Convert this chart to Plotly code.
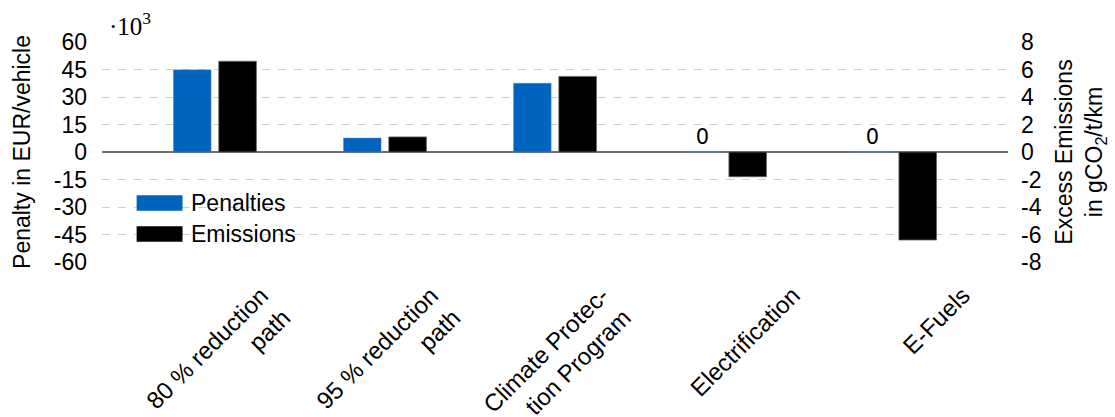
import plotly.graph_objects as go

# ---- data -------------------------------------------------------------
categories = [
    "80 % reduction path",
    "95 % reduction path",
    "Climate Protection Program",
    "Electrification",
    "E-Fuels",
]
category_labels = [
    "80 % reduction<br>path",
    "95 % reduction<br>path",
    "Climate Protec-<br>tion Program",
    "Electrification",
    "E-Fuels",
]
penalties_keur = [44.8, 7.6, 37.5, 0, 0]      # EUR/vehicle, in thousands
excess_emissions = [6.6, 1.1, 5.5, -1.8, -6.4]  # gCO2/t/km

penalty_ticks = [-60, -45, -30, -15, 0, 15, 30, 45, 60]
penalty_tick_text = ["-60", "-45", "-30", "-15", "0", "15", "30", "45", "60"]
emission_ticks = [-8, -6, -4, -2, 0, 2, 4, 6, 8]
emission_tick_text = ["-8", "-6", "-4", "-2", "0", "2", "4", "6", "8"]

# ---- styling ----------------------------------------------------------
BLUE = "#0063BD"
FONT = "Liberation Sans, Arial, sans-serif"
FS = 23
W, H = 1115, 417
M = dict(l=102, r=105, t=42, b=155)
plot_w = W - M["l"] - M["r"]
plot_h = H - M["t"] - M["b"]


def px_x(px):
    return (px - M["l"]) / plot_w


def px_y(py):
    return (H - M["b"] - py) / plot_h


fig = go.Figure()

fig.add_trace(go.Bar(
    x=categories, y=penalties_keur, name="Penalties",
    marker=dict(color=BLUE, line=dict(color="rgba(90,140,200,0.6)", width=0.8)),
    offsetgroup="pen", yaxis="y",
    text=[f"{v:g}" if v == 0 else "" for v in penalties_keur],
    textposition="outside", textangle=0, cliponaxis=False,
    textfont=dict(family="DejaVu Sans", size=21, color="black"),
    showlegend=False,
))
fig.add_trace(go.Bar(
    x=categories, y=excess_emissions, name="Emissions",
    marker=dict(color="black", line=dict(color="#666666", width=0.8)),
    offsetgroup="emi", yaxis="y2",
    showlegend=False,
))

# rotated category labels
for cat, lab in zip(categories, category_labels):
    fig.add_annotation(
        x=cat, xref="x", y=0, yref="paper", text=lab, showarrow=False,
        textangle=-45, xanchor="right", yanchor="top", align="right",
        xshift=83, yshift=-17,
        font=dict(family=FONT, size=24, color="black"),
    )

# legend drawn as swatches + labels inside the plot area
legend_items = [("Penalties", BLUE, 203), ("Emissions", "black", 234)]
for label, color, cy in legend_items:
    fig.add_shape(
        type="rect", xref="paper", yref="paper",
        x0=px_x(136.7), x1=px_x(182.7), y0=px_y(cy + 7.8), y1=px_y(cy - 7.8),
        fillcolor=color, line=dict(width=0),
    )
    fig.add_annotation(
        x=px_x(189), y=px_y(cy), xref="paper", yref="paper", text=label,
        showarrow=False, xanchor="left", yanchor="middle",
        font=dict(family=FONT, size=FS, color="black"),
    )

# scale factor marker of the left axis
fig.add_annotation(
    x=0, y=1, xref="paper", yref="paper", text="·10<sup>3</sup>",
    showarrow=False, xanchor="left", yanchor="bottom", xshift=5, yshift=0,
    font=dict(family="Liberation Serif, serif", size=25, color="black"),
)

fig.update_layout(
    width=W, height=H, margin=M,
    paper_bgcolor="white", plot_bgcolor="white",
    barmode="group", bargap=0.467, bargroupgap=0.17,
    font=dict(family=FONT, size=FS, color="black"),
    xaxis=dict(
        type="category", range=[-0.664, 4.664], showticklabels=False,
        showgrid=False, showline=False, zeroline=False, ticks="",
    ),
    yaxis=dict(
        range=[-60, 60], tickvals=penalty_ticks, ticktext=penalty_tick_text,
        showgrid=True, gridcolor="#cfcfcf", gridwidth=1.3, griddash="8px,8px",
        zeroline=True, zerolinecolor="#6e6e6e", zerolinewidth=2,
        showline=False, ticks="", ticklabelstandoff=14,
        title=dict(text="Penalty in EUR/vehicle", standoff=16,
                   font=dict(family=FONT, size=FS)),
        tickfont=dict(family=FONT, size=FS),
    ),
    yaxis2=dict(
        range=[-8, 8], tickvals=emission_ticks, ticktext=emission_tick_text,
        overlaying="y", side="right", showgrid=False, zeroline=False,
        showline=False, ticks="", ticklabelstandoff=12,
        title=dict(text="Excess Emissions<br>in gCO<sub>2</sub>/t/km", standoff=15,
                   font=dict(family=FONT, size=FS)),
        tickfont=dict(family=FONT, size=FS),
    ),
)

fig.write_html("out.html")
